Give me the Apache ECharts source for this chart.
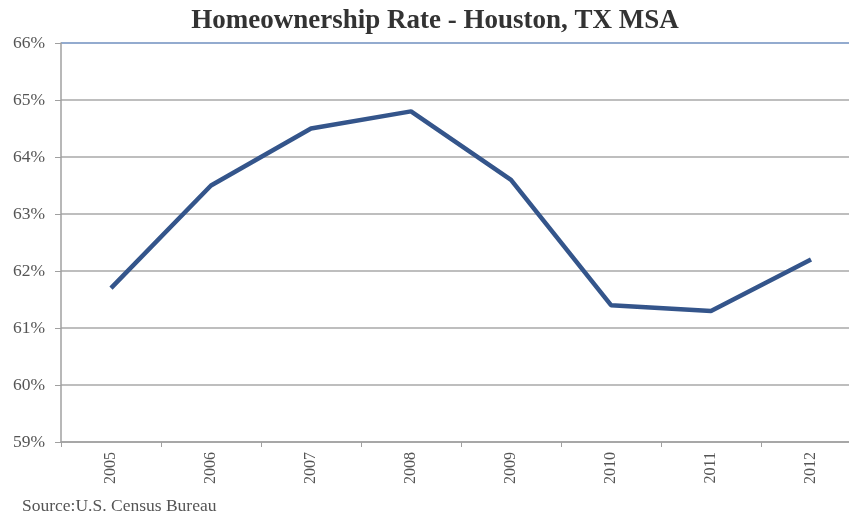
<!DOCTYPE html>
<html>
<head>
<meta charset="utf-8">
<script src="https://cdn.jsdelivr.net/npm/echarts@6/dist/echarts.min.js"></script>
<style>
    html, body { margin: 0; padding: 0; background: #fff; overflow: hidden; }
    /* plot runs a little past the right edge of the window, like the reference */
    #chart { width: 861px; height: 517px; }
</style>
</head>
<body>
<div id="chart"></div>
<script>
    const years = ['2005', '2006', '2007', '2008', '2009', '2010', '2011', '2012']
    const rates = [61.7, 63.5, 64.5, 64.8, 63.6, 61.4, 61.3, 62.2]
    const yMin = 59
    const yMax = 66

    const chart = echarts.init(document.getElementById('chart'))
    chart.setOption({
        animation: false,
        title: {
            text: 'Homeownership Rate - Houston, TX MSA',
            left: 430,
            top: 3,
            textAlign: 'center',
            textStyle: {
                fontFamily: 'Liberation Serif',
                fontSize: 27,
                fontWeight: 'bold',
                color: '#333'
            }
        },
        graphic: [{
            type: 'text',
            left: 22,
            top: 497,
            style: {
                text: 'Source:U.S. Census Bureau',
                font: '17.5px "Liberation Serif"',
                fill: '#555'
            }
        }],
        grid: {
            left: 61,
            top: 43,
            right: 0,
            height: 399
        },
        xAxis: {
            type: 'category',
            data: years,
            boundaryGap: true,
            axisLine: { lineStyle: { color: '#a0a0a0', width: 1.5 } },
            axisTick: { show: true, length: 5, inside: false, lineStyle: { color: '#a0a0a0' } },
            axisLabel: {
                rotate: 90,
                margin: 10,
                fontFamily: 'Liberation Serif',
                fontSize: 16,
                color: '#555'
            }
        },
        yAxis: {
            type: 'value',
            min: yMin,
            max: yMax,
            interval: 1,
            axisLine: { show: true, lineStyle: { color: '#a0a0a0', width: 1.5 } },
            axisTick: { show: true, length: 6, lineStyle: { color: '#a0a0a0' } },
            axisLabel: {
                margin: 16,
                formatter: '{value}%',
                fontFamily: 'Liberation Serif',
                fontSize: 17.5,
                color: '#555'
            },
            splitLine: {
                lineStyle: {
                    color: ['#a8a8a8', '#a8a8a8', '#a8a8a8', '#a8a8a8', '#a8a8a8', '#a8a8a8', '#a8a8a8', '#6f8fbf'],
                    width: 1.5
                }
            }
        },
        series: [{
            type: 'line',
            data: rates,
            symbol: 'none',
            lineStyle: { color: '#34558b', width: 4.5 }
        }]
    })
</script>
</body>
</html>
